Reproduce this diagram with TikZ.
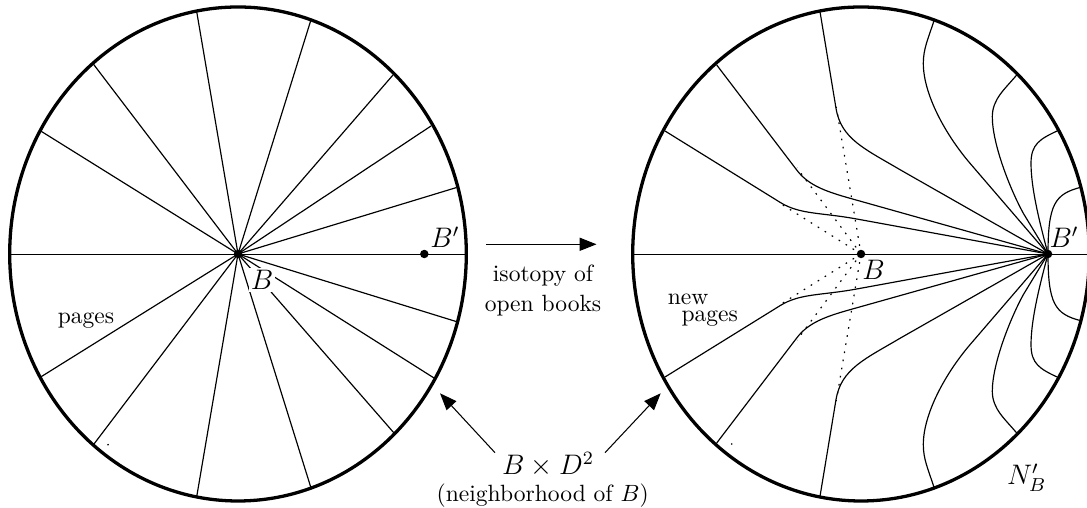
\documentclass[tikz,border=0pt]{standalone}
\usetikzlibrary{arrows.meta}
\tikzset{
  px/.style={x=0.425pt,y=0.425pt},
  page/.style={line width=0.5pt},
  rim/.style={line width=1.4pt},
  dotline/.style={line width=0.5pt,dash pattern=on 0.7pt off 2.8pt},
  bigarrow/.style={line width=0.45pt,-{Triangle[length=7.2pt,width=5.6pt]}},
  txt/.style={anchor=base,inner sep=0pt},
  bigtxt/.style={anchor=base,inner sep=0pt,font=\large},
  pt/.style={circle,fill=black,inner sep=0pt,minimum size=3.6pt}
}
\newcommand{\rightpages}{%
  \draw[page] (820,242.3) -- (836,145.7) .. controls (841,115) and (865,105) .. (900,84.3) -- (1048,0);
  \draw[page] (716.7,189) -- (796.7,84) .. controls (808,69) and (825,62.7) .. (850,55.7) -- (1048,0);
  \draw[page] (665,123) -- (780,51.7) .. controls (800,39.3) and (820,41.7) .. (856.7,35) -- (1048,0);
  \draw[page] (934,233.3) .. controls (928,215) and (923.3,205) .. (923.3,190.7)
     .. controls (923.3,160) and (945,120) .. (970,90.7) -- (1048,0);
  \draw[page] (1016.7,179) .. controls (1005,165) and (992.3,155) .. (992.3,137.3)
     .. controls (992.3,110) and (1010,65) .. (1023.3,40.7) -- (1048,0);
  \draw[page] (1057.7,123.3) .. controls (1040,115) and (1031,110) .. (1031,90.7)
     .. controls (1031,65) and (1040,30) .. (1048,0);
  \draw[page] (1080.7,66.7) .. controls (1055,60) and (1048,50) .. (1048,0);
  \draw[dotline] (861,0) -- (836.3,147);
  \draw[dotline] (861,0) -- (797,86);
  \draw[dotline] (861,0) -- (778,52);
}
\begin{document}
\begin{tikzpicture}[px]
  \useasboundingbox (0,-254) rectangle (1087,254);
  \clip (0,-254) rectangle (1087,254);
  % left disc
  \coordinate (lc) at (238,0);
  \coordinate (rc) at (861,0);
  \foreach \p in {(196.7,242.3),(310.7,233.3),(393,179),(431,128),(456,66.3),(93.3,190),(40.7,123),
                  (40.7,-123),(94,-190),(196.7,-242.7),(310.7,-233),(394,-179),(434,-124),(456.7,-67.7)}
    \draw[page] (lc) -- \p;
  \draw[page] (9,-0.4) -- (466,-0.4);
  \fill (108,-190.7) circle (0.4pt);
  \node[pt] (lB) at (lc) {};
  \node[pt] (lBp) at (424.3,0) {};
  \node[bigtxt,fill=white,inner xsep=0.6pt,inner ysep=1pt] (lBl) at (262,-36) {$B$};
  \node[bigtxt] (lBpl) at (445,6) {$B'$};
  \node[txt] (lpages) at (86,-70) {pages};
  \draw[rim] (lc) ellipse [x radius=228.3,y radius=247];
  % right disc
  \rightpages
  \begin{scope}[yscale=-1]\rightpages\end{scope}
  \draw[page] (633,-0.4) -- (1087,-0.4);
  \fill (731.7,-190) circle (0.4pt);
  \node[pt] (rB) at (rc) {};
  \node[pt] (rBp) at (1048,0) {};
  \node[bigtxt] (rBl) at (873.6,-25.7) {$B$};
  \node[bigtxt] (rBpl) at (1064,6) {$B'$};
  \node[txt] (rnew) at (688,-50.7) {new};
  \node[txt] (rpages) at (709.7,-68) {pages};
  \node[bigtxt] (rN) at (1026.7,-230.7) {$N'_B$};
  \draw[rim] (rc) ellipse [x radius=228.3,y radius=247];
  % centre
  \coordinate (isoA) at (486,9.7);
  \coordinate (isoB) at (596.5,9.7);
  \draw[bigarrow] (isoA) -- (isoB);
  \node[txt] (iso1) at (543,-27.7) {isotopy of};
  \node[txt] (iso2) at (543,-57.7) {open books};
  \node[bigtxt] (bd) at (548,-221) {$B\times D^2$};
  \node[txt] (nb) at (542.7,-247.7) {(neighborhood of $B$)};
  \coordinate (aL0) at (495,-198.7);
  \coordinate (aL1) at (440,-139.3);
  \coordinate (aR0) at (605,-198.7);
  \coordinate (aR1) at (660.7,-139.3);
  \draw[bigarrow] (aL0) -- (aL1);
  \draw[bigarrow] (aR0) -- (aR1);
\end{tikzpicture}
\end{document}
